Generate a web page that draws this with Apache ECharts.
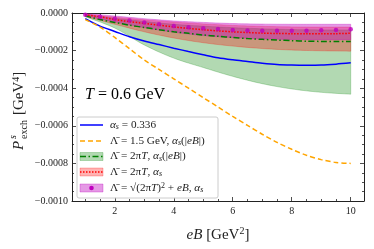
<!DOCTYPE html>
<html><head><meta charset="utf-8">
<script src="https://cdn.jsdelivr.net/npm/echarts@6/dist/echarts.min.js"></script>
<style>html,body{margin:0;padding:0;background:#fff}#c{width:374px;height:249px}</style>
</head><body><div id="c"></div>
<script>
// ---- data ----
const eB = [1,1.5,2,2.5,3,3.5,4,4.5,5,5.5,6,6.5,7,7.5,8,8.5,9,9.5,10];
const alphaConst = [-0.00003,-0.00007,-0.000098,-0.000126,-0.000149,-0.000168,-0.000187,-0.000205,-0.000222,-0.000238,-0.000249,-0.000258,-0.000267,-0.000274,-0.000277,-0.000278,-0.000277,-0.000272,-0.000265];
const lambda15 = [-0.000035,-0.000075,-0.00013,-0.00019,-0.00025,-0.0003,-0.00035,-0.0004,-0.00045,-0.0005,-0.00055,-0.000598,-0.000645,-0.000688,-0.000725,-0.000757,-0.00078,-0.000795,-0.0008];
const green2piT = [-0.000015,-0.000035,-0.00005,-0.000065,-0.000077,-0.000089,-0.0001,-0.000108,-0.000117,-0.000124,-0.00013,-0.000136,-0.00014,-0.000144,-0.000147,-0.00015,-0.000151,-0.000151,-0.000151];
const red2piT = [-0.00001,-0.00002,-0.000035,-0.000046,-0.000055,-0.000065,-0.000074,-0.000082,-0.000089,-0.000095,-0.0001,-0.000104,-0.000107,-0.000109,-0.00011,-0.000111,-0.000111,-0.00011,-0.000108];
const magSqrt = [-0.000009,-0.00002,-0.00003,-0.00004,-0.00005,-0.00006,-0.000069,-0.000076,-0.000081,-0.000085,-0.00009,-0.000093,-0.000095,-0.000095,-0.000095,-0.000094,-0.000092,-0.00009,-0.000087];

const bandEB = [1,2,3,4,5,6,7,8,9,10];
const greenLow  = [-0.00002,-0.00008,-0.00017,-0.00024,-0.00029,-0.000337,-0.000376,-0.000404,-0.000422,-0.000432];
const greenHigh = [-0.000008,-0.000028,-0.000045,-0.00006,-0.00007,-0.000078,-0.000084,-0.000088,-0.00009,-0.00009];
const redLow    = [-0.000018,-0.00006,-0.0001,-0.000133,-0.000158,-0.000176,-0.000189,-0.000197,-0.000201,-0.000203];
const redHigh   = [-0.000006,-0.000022,-0.000036,-0.000048,-0.000058,-0.000066,-0.000071,-0.000074,-0.000075,-0.000075];
const magLow    = [-0.000014,-0.000048,-0.000078,-0.000102,-0.00012,-0.000131,-0.000138,-0.000141,-0.000142,-0.000142];
const magHigh   = [-0.000003,-0.000016,-0.00003,-0.000042,-0.00005,-0.000056,-0.000059,-0.00006,-0.00006,-0.00006];

const xMajor = [2,4,6,8,10];
const xMinor = [1,1.5,2.5,3,3.5,4.5,5,5.5,6.5,7,7.5,8.5,9,9.5];

// ---- helpers ----
const F = "'Liberation Serif', 'DejaVu Serif', serif";
const pairs = (xs, ys) => xs.map((x, i) => [x, ys[i]]);
const C = {blue:'#0000ff', orange:'#ffa500', green:'#008000', red:'#ff0000', mag:'#bf00bf'};

// Catmull-Rom smoothing of screen points (render-time only)
function smoothPts(p) {
  const out = [];
  const n = p.length;
  for (let i = 0; i < n - 1; i++) {
    const p0 = p[Math.max(i - 1, 0)], p1 = p[i], p2 = p[i + 1], p3 = p[Math.min(i + 2, n - 1)];
    for (let k = 0; k < 10; k++) {
      const t = k / 10, t2 = t * t, t3 = t2 * t;
      out.push([0, 1].map(d => 0.5 * (2 * p1[d] + (-p0[d] + p2[d]) * t + (2 * p0[d] - 5 * p1[d] + 4 * p2[d] - p3[d]) * t2 + (-p0[d] + 3 * p1[d] - 3 * p2[d] + p3[d]) * t3)));
    }
  }
  out.push(p[n - 1]);
  return out;
}

function band(lo, hi, rgb, op, z) {
  return {type:'custom', coordinateSystem:'cartesian2d', xAxisIndex:0, yAxisIndex:0, z:z, silent:true,
    data: bandEB.map((x, i) => [x, lo[i], hi[i]]),
    encode:{x:0, y:[1, 2]},
    renderItem: (params, api) => {
      if (params.dataIndex !== 0) return null;
      const top = smoothPts(bandEB.map((x, i) => api.coord([x, hi[i]])));
      const bot = smoothPts(bandEB.map((x, i) => api.coord([x, lo[i]]))).reverse();
      return {type:'polygon', shape:{points: top.concat(bot)},
        style:{fill:'rgba(' + rgb + ',' + op + ')', stroke:'rgba(' + rgb + ',' + op + ')', lineWidth:0.8}};
    }};
}

const axisCol = '#222';
function xAx(pos, vals, len, line, labels) {
  return {type:'value', min:0.55, max:10.45, position:pos, gridIndex:0,
    axisLine:{show:line, onZero:false, lineStyle:{color:axisCol, width:1}},
    axisTick:{show:true, inside:true, length:len, customValues:vals, lineStyle:{color:axisCol, width:0.8}},
    axisLabel:{show:labels, customValues:vals, margin:5, color:'#222', fontFamily:F, fontSize:10},
    splitLine:{show:false}};
}
function yAx(pos, labels) {
  return {type:'value', min:-0.001, max:0, interval:0.0002, position:pos,
    axisLine:{show:true, onZero:false, lineStyle:{color:axisCol, width:1}},
    axisTick:{show:true, inside:true, length:4, lineStyle:{color:axisCol, width:0.8}},
    minorTick:{show:true, splitNumber:4, length:2, lineStyle:{color:axisCol, width:0.8}},
    axisLabel:{show:labels, margin:4, color:'#222', fontFamily:F, fontSize:10,
      formatter: v => (v < 0 ? '\u2212' : '') + Math.abs(v).toFixed(4)},
    splitLine:{show:false}};
}

const chart = echarts.init(document.getElementById('c'), null, {renderer:'canvas'});

const LF = 11.2;
const rich = {
  t:{fontFamily:F, fontSize:LF, lineHeight:12, color:'#222'},
  i:{fontFamily:F, fontSize:LF, fontStyle:'italic', lineHeight:12, color:'#222'},
  sub:{fontFamily:F, fontSize:8, fontStyle:'italic', lineHeight:7, verticalAlign:'bottom', color:'#222'},
  sup:{fontFamily:F, fontSize:8, lineHeight:7, verticalAlign:'top', color:'#222'}
};
const LB = 'Λ\u0304';
const legendRows = [
  '{i|α}{sub|s}{t| = 0.336}',
  '{t|' + LB + ' = 1.5 GeV, }{i|α}{sub|s}{t|(|}{i|eB}{t||)}',
  '{t|' + LB + ' = 2π}{i|T}{t|, }{i|α}{sub|s}{t|(|}{i|eB}{t||)}',
  '{t|' + LB + ' = 2π}{i|T}{t|, }{i|α}{sub|s}',
  '{t|' + LB + ' = √(2π}{i|T}{t|)}{sup|2}{t| + }{i|eB}{t|, }{i|α}{sub|s}'
];
const rowY = [125, 141, 156.5, 172, 188];
const hx1 = 80, hx2 = 103;
const g = [];
g.push({type:'rect', shape:{x:77, y:117, width:141, height:81, r:2}, style:{fill:'rgba(255,255,255,0.85)', stroke:'#cccccc', lineWidth:1}, z:50});
g.push({type:'line', shape:{x1:hx1,y1:rowY[0],x2:hx2,y2:rowY[0]}, style:{stroke:C.blue, lineWidth:1.5}, z:51});
g.push({type:'line', shape:{x1:hx1,y1:rowY[1],x2:hx2,y2:rowY[1]}, style:{stroke:C.orange, lineWidth:1.5, lineDash:[5,3]}, z:51});
g.push({type:'rect', shape:{x:hx1,y:rowY[2]-4,width:hx2-hx1,height:8}, style:{fill:'rgba(0,128,0,0.3)', stroke:'rgba(0,128,0,0.4)', lineWidth:0.6}, z:51});
g.push({type:'line', shape:{x1:hx1,y1:rowY[2],x2:hx2,y2:rowY[2]}, style:{stroke:C.green, lineWidth:1.5, lineDash:[6,2.5,1.5,2.5]}, z:52});
g.push({type:'rect', shape:{x:hx1,y:rowY[3]-4,width:hx2-hx1,height:8}, style:{fill:'rgba(255,0,0,0.3)', stroke:'rgba(255,0,0,0.4)', lineWidth:0.6}, z:51});
g.push({type:'line', shape:{x1:hx1,y1:rowY[3],x2:hx2,y2:rowY[3]}, style:{stroke:C.red, lineWidth:1.5, lineDash:[1.5,1.5]}, z:52});
g.push({type:'rect', shape:{x:hx1,y:rowY[4]-4,width:hx2-hx1,height:8}, style:{fill:'rgba(191,0,191,0.4)', stroke:'rgba(191,0,191,0.5)', lineWidth:0.6}, z:51});
g.push({type:'circle', shape:{cx:(hx1+hx2)/2, cy:rowY[4], r:2.3}, style:{fill:C.mag}, z:52});
legendRows.forEach((txt, k) => {
  g.push({type:'text', x:110, y:rowY[k], z:53, style:{text:txt, rich:rich, verticalAlign:'middle', align:'left', fill:'#222', font:LF + 'px ' + F}});
});
// T label
g.push({type:'text', x:85, y:95, z:20, style:{text:'{i|T}{t| = 0.6 GeV}', verticalAlign:'middle', align:'left',
  rich:{i:{fontFamily:F, fontSize:16, fontStyle:'italic', color:'#222'}, t:{fontFamily:F, fontSize:16, color:'#222'}}}});
// Y axis label (rotated)
g.push({type:'group', x:19, y:150, rotation:Math.PI/2, children:[
  {type:'text', x:0, y:0, style:{text:'P', font:'italic 15px ' + F, fill:'#222', verticalAlign:'middle', align:'left'}},
  {type:'text', x:11, y:-6, style:{text:'s', font:'italic 10px ' + F, fill:'#222', verticalAlign:'middle', align:'left'}},
  {type:'text', x:11, y:5, style:{text:'exch', font:'10px ' + F, fill:'#222', verticalAlign:'middle', align:'left'}},
  {type:'text', x:35, y:0, style:{text:'[GeV{sup|4}]', font:'15px ' + F, fill:'#222', verticalAlign:'middle', align:'left',
    rich:{sup:{fontFamily:F, fontSize:10, lineHeight:8, verticalAlign:'top', color:'#222'}}}}
]});

const series = [
  band(greenLow, greenHigh, '0,128,0', 0.3, 1),
  band(redLow, redHigh, '255,0,0', 0.3, 2),
  band(magLow, magHigh, '191,0,191', 0.4, 3),
  {type:'line', name:'alpha', data:pairs(eB, alphaConst), smooth:0.3, symbol:'none', lineStyle:{color:C.blue, width:1.5}, z:5},
  {type:'line', name:'l15', data:pairs(eB, lambda15), smooth:0.3, symbol:'none', lineStyle:{color:C.orange, width:1.5, type:[5,3]}, z:5},
  {type:'line', name:'g2', data:pairs(eB, green2piT), smooth:0.3, symbol:'none', lineStyle:{color:C.green, width:1.5, type:[6,2.5,1.5,2.5]}, z:5},
  {type:'line', name:'r2', data:pairs(eB, red2piT), smooth:0.3, symbol:'none', lineStyle:{color:C.red, width:1.5, type:[1.5,1.5]}, z:5},
  {type:'scatter', name:'m', data:pairs(eB, magSqrt), symbol:'circle', symbolSize:4.5, itemStyle:{color:C.mag}, z:6}
];

chart.setOption({
  animation:false,
  backgroundColor:'#fff',
  grid:{left:72, top:13, right:10, bottom:44, containLabel:false},
  xAxis:[
    Object.assign(xAx('bottom', xMajor, 4, true, true), {name:'{i|eB} [GeV{sup|2}]', nameLocation:'middle', nameGap:25,
      nameTextStyle:{fontFamily:F, fontSize:15, color:'#222', lineHeight:18,
        rich:{i:{fontFamily:F, fontSize:15, fontStyle:'italic', color:'#222', lineHeight:18}, sup:{fontFamily:F, fontSize:10, lineHeight:9, verticalAlign:'top', color:'#222'}}}}),
    xAx('bottom', xMinor, 2, false, false),
    xAx('top', xMajor, 4, true, false),
    xAx('top', xMinor, 2, false, false)
  ],
  yAxis:[yAx('left', true), yAx('right', false)],
  series: series.map(s => Object.assign({xAxisIndex:0, yAxisIndex:0}, s)),
  graphic: g
});
</script></body></html>
